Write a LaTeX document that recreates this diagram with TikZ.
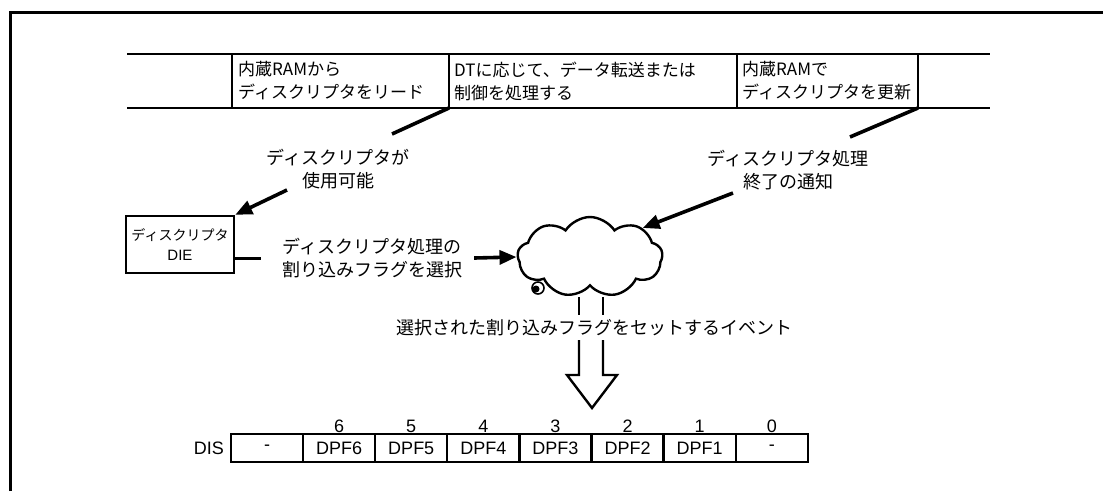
\documentclass[tikz,border=0pt]{standalone}
\usepackage{fontspec}
\setmainfont{Noto Sans CJK JP}
\newfontfamily\latinsf{Liberation Sans}
\usepackage{tikz}
\usetikzlibrary{arrows.meta, positioning, shapes.symbols}

\tikzset{
  bandcell/.style={draw, line width=2.6pt, minimum height=54pt, inner sep=0pt, outer sep=0pt, anchor=north west},
  bandtext/.style={align=left, inner sep=0pt, font=\fontsize{17}{23}\selectfont},
  lbl/.style={align=center, inner sep=1pt, font=\fontsize{18}{23}\selectfont},
  callout/.style={line width=3.6pt},
  pointer/.style={line width=3.6pt, -{Triangle[length=17pt,width=14pt]}},
  regfont/.style={font=\latinsf\fontsize{18}{20}\selectfont},
  regcell/.style={draw, line width=2.3pt, minimum width=72.1pt, minimum height=28pt, inner sep=0pt, outer sep=0pt, anchor=north west, regfont},
}

\begin{document}
\begin{tikzpicture}[x=1pt, y=-1pt, line cap=butt]
    \useasboundingbox (0,0) rectangle (1103,491);
    % frame
    \draw[line width=3pt] (10,491) -- (10,12) -- (1103,12);

    % transfer steps
    \node[bandcell, minimum width=217pt] (read) at (232,54) {};
    \node[bandcell, minimum width=288pt] (proc) at (449,54) {};
    \node[bandcell, minimum width=181pt] (upd) at (737,54) {};
    \draw[line width=2.6pt] (127,54) -- (read.north west) (127,108) -- (read.south west);
    \draw[line width=2.6pt] (upd.north east) -- (990,54) (upd.south east) -- (990,108);
    \node[bandtext, right=6pt of read.west] (readtxt) {内蔵RAMから\\ディスクリプタをリード};
    \node[bandtext, right=5pt of proc.west] (proctxt) {DTに応じて、データ転送または\\制御を処理する};
    \node[bandtext, right=5pt of upd.west] (updtxt) {内蔵RAMで\\ディスクリプタを更新};

    % descriptor available
    \node[lbl] (avail) at (338,169) {ディスクリプタが\\使用可能};
    \coordinate (availtop) at (392,134);
    \coordinate (availbot) at (287,190);
    \draw[callout] (read.south east) -- (availtop);

    % DIE box
    \node[draw, line width=2.4pt, minimum width=108pt, minimum height=57pt, inner sep=0pt,
          align=center, font=\fontsize{14}{20}\selectfont] (die) at (180,244.5) {ディスクリプタ\\{\latinsf\fontsize{15}{20}\selectfont DIE}};
    \draw[pointer] (availbot) -- (die.north east);

    % cloud
    \node[cloud, draw, line width=2.4pt, cloud puffs=9, cloud puff arc=115, aspect=1.8,
          minimum width=145pt, minimum height=80pt, inner sep=0pt] (evt) at (590,257) {};
    \draw[line width=1.6pt] (538,288) circle (6);
    \fill (536,289) circle (3.5);

    \node[lbl] (sel) at (372,258) {ディスクリプタ処理の\\割り込みフラグを選択};
    \draw[callout] ([yshift=-14pt]die.east) -- ++(26,0);
    \draw[pointer] ([xshift=11pt]sel.east) -- (evt.west);

    % end of processing
    \node[lbl] (done) at (788,170) {ディスクリプタ処理\\終了の通知};
    \coordinate (donetop) at (850,137);
    \coordinate (donebot) at (733,193);
    \draw[callout] (upd.south east) -- (donetop);
    \draw[pointer] (donebot) -- (evt.north east);

    % hollow arrow down to DIS
    \node[lbl] (setevt) at (594,328) {選択された割り込みフラグをセットするイベント};
    \draw[line width=2.4pt] (579,297) -- (579,315) (603,297) -- (603,315);
    \draw[line width=2.4pt, line join=miter]
      (579,340) -- (579,375) -- (567,375) -- (592,408) -- (617,375) -- (603,375) -- (603,340);

    % DIS register
    \foreach \lab [count=\i from 0] in {-,DPF6,DPF5,DPF4,DPF3,DPF2,DPF1,-}
      \node[regcell] (r\i) at (231+72.1*\i,434) {\lab};
    \foreach \b [count=\i from 1] in {6,5,4,3,2,1,0}
      \node[above=1pt of r\i, inner sep=0pt, regfont] (bit\b) {\b};
    \node[left=7pt of r0, inner sep=0pt, regfont] (dis) {DIS};
  \end{tikzpicture}
\end{document}
